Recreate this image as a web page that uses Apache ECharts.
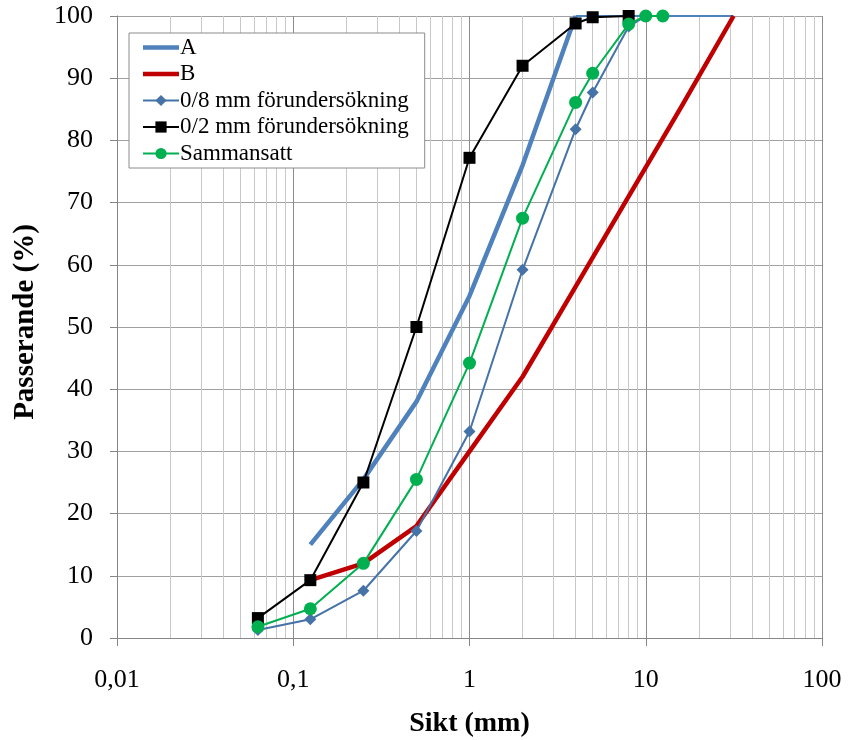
<!DOCTYPE html>
<html>
<head>
<meta charset="utf-8">
<script src="https://cdn.jsdelivr.net/npm/echarts@6/dist/echarts.min.js"></script>
<style>
html,body{margin:0;padding:0;background:#fff;}
#chart{width:848px;height:740px;}
</style>
</head>
<body>
<div id="chart"></div>
<script>
// Sieve sizes (mm) and passing percentages
const sizesA = [0.125, 0.25, 0.5, 1, 2, 4];
const valuesA = [15, 25.5, 38, 55, 76, 100];
const sizesATail = [4, 31.5];
const valuesATail = [100, 100];

const sizesB = [0.125, 0.25, 0.5, 1, 2, 4, 8, 16, 31.5];
const valuesB = [9.3, 12, 18, 30, 42, 56.5, 71, 85.5, 100];

const sizes08 = [0.063, 0.125, 0.25, 0.5, 1, 2, 4, 5, 8, 10];
const values08 = [1.3, 3.0, 7.6, 17.2, 33.2, 59.2, 81.8, 87.7, 98.3, 100];

const sizes02 = [0.063, 0.125, 0.25, 0.5, 1, 2, 4, 5, 8];
const values02 = [3.2, 9.3, 25, 50, 77.2, 92, 98.8, 99.8, 100];

const sizesSam = [0.063, 0.125, 0.25, 0.5, 1, 2, 4, 5, 8, 10, 12.5];
const valuesSam = [1.8, 4.7, 12, 25.5, 44.2, 67.5, 86.1, 90.8, 98.7, 100, 100];

const xTickLabels = {'0.01':'0,01','0.1':'0,1','1':'1','10':'10','100':'100'};
const decades = [0.01, 0.1, 1, 10];
const minorMultipliers = [2, 3, 4, 5, 6, 7, 8, 9];

function pairs(xs, ys){ return xs.map((x,i)=>[x, ys[i]]); }

const minorLines = [];
decades.forEach(d => minorMultipliers.forEach(m => {
  minorLines.push({xAxis: +(d*m).toPrecision(6)});
}));

const FONT = '"Liberation Serif", "Times New Roman", serif';
const LINE_ICON = 'path://M0,0 L36,0 L36,4.5 L0,4.5 Z';

const chart = echarts.init(document.getElementById('chart'), null, {renderer:'canvas'});
chart.setOption({
  animation: false,
  backgroundColor: '#fff',
  grid: {left: 117, right: 26, top: 16, bottom: 102, containLabel: false, outerBoundsMode: 'none'},
  legend: {
    orient: 'vertical',
    left: 129, top: 33,
    backgroundColor: '#fff',
    borderColor: '#8c8c8c',
    borderWidth: 1,
    padding: [3, 16, 3, 13],
    itemGap: 3.5,
    itemWidth: 36,
    itemHeight: 14,
    textStyle: {fontFamily: FONT, fontSize: 23, color: '#000', padding: [0,0,0,-4]},
    data: [
      {name: 'A', icon: LINE_ICON},
      {name: 'B', icon: LINE_ICON},
      '0/8 mm förundersökning', '0/2 mm förundersökning', 'Sammansatt'
    ]
  },
  xAxis: {
    type: 'log', logBase: 10, min: 0.01, max: 100,
    name: 'Sikt (mm)', nameLocation: 'middle', nameGap: 72,
    nameTextStyle: {fontFamily: FONT, fontSize: 28, fontWeight: 'bold', color: '#000'},
    axisLine: {show: true, lineStyle: {color: '#868686', width: 1}},
    axisTick: {show: true, length: 8, lineStyle: {color: '#868686'}},
    axisLabel: {fontFamily: FONT, fontSize: 26, color: '#000', margin: 29,
      formatter: v => xTickLabels[String(+(+v).toPrecision(6))] || String(v).replace('.', ',')},
    splitLine: {show: true, lineStyle: {color: '#8c8c8c', width: 1}},
    minorTick: {show: false},
    minorSplitLine: {show: false}
  },
  yAxis: {
    type: 'value', min: 0, max: 100, interval: 10,
    name: 'Passerande (%)', nameLocation: 'middle', nameGap: 77, nameRotate: 90,
    nameTextStyle: {fontFamily: FONT, fontSize: 29, fontWeight: 'bold', color: '#000', padding: [0,0,0,10]},
    axisLine: {show: true, lineStyle: {color: '#868686', width: 1}},
    axisTick: {show: true, length: 7, lineStyle: {color: '#868686'}},
    axisLabel: {fontFamily: FONT, fontSize: 26, color: '#000', margin: 24},
    splitLine: {show: true, lineStyle: {color: '#a0a0a0', width: 1}}
  },
  series: [
    {
      name: 'minor', type: 'line', data: [], silent: true, z: 1,
      markLine: {
        silent: true, symbol: ['none','none'], z: 1,
        label: {show: false},
        lineStyle: {color: '#c8c8c8', width: 1, type: 'solid'},
        emphasis: {disabled: true},
        data: minorLines
      }
    },
    {
      name: 'A', type: 'line', data: pairs(sizesA, valuesA),
      symbol: 'none', color: '#4F81BD', lineStyle: {width: 4.5, color: '#4F81BD'}, z: 2
    },
    {
      name: 'A', type: 'line', data: pairs(sizesATail, valuesATail),
      symbol: 'none', color: '#4F81BD', lineStyle: {width: 2.2, color: '#4F81BD'}, z: 2
    },
    {
      name: 'B', type: 'line', data: pairs(sizesB, valuesB),
      symbol: 'none', color: '#C00000', lineStyle: {width: 4.5, color: '#C00000'}, z: 3
    },
    {
      name: '0/8 mm förundersökning', type: 'line', data: pairs(sizes08, values08),
      symbol: 'diamond', symbolSize: 12, color: '#4572A7',
      itemStyle: {color: '#4572A7'}, lineStyle: {width: 2, color: '#4572A7'}, z: 4
    },
    {
      name: '0/2 mm förundersökning', type: 'line', data: pairs(sizes02, values02),
      symbol: 'rect', symbolSize: 12, color: '#000',
      itemStyle: {color: '#000'}, lineStyle: {width: 2, color: '#000'}, z: 5
    },
    {
      name: 'Sammansatt', type: 'line', data: pairs(sizesSam, valuesSam),
      symbol: 'circle', symbolSize: 13, color: '#00B050',
      itemStyle: {color: '#00B050'}, lineStyle: {width: 2, color: '#00B050'}, z: 6
    }
  ]
});
</script>
</body>
</html>
